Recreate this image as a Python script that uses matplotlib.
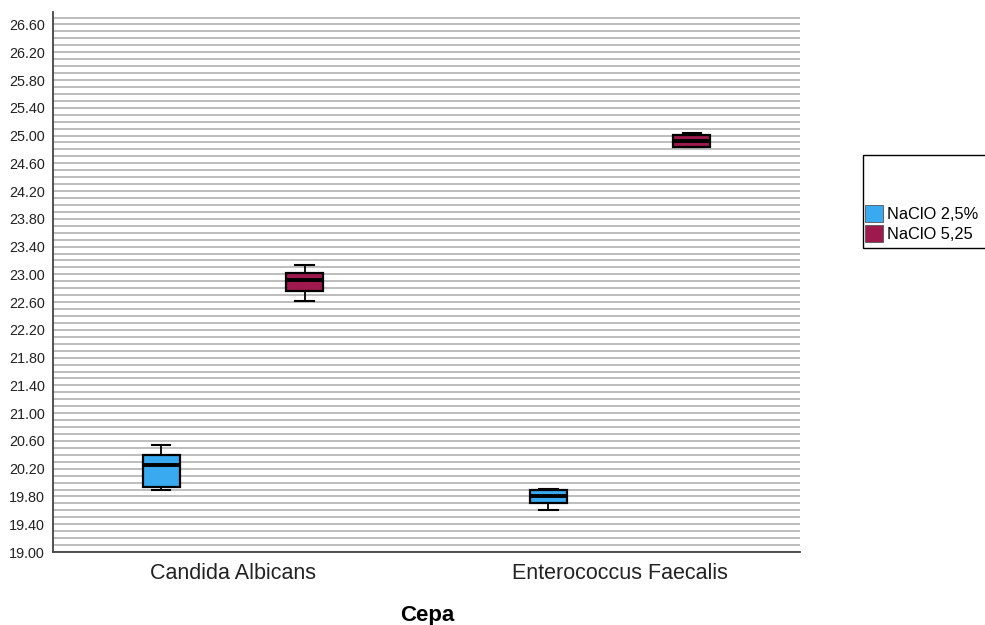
import matplotlib
matplotlib.use("Agg")
import matplotlib.pyplot as plt
from matplotlib.patches import Patch, Rectangle
import numpy as np

plt.rcParams['font.family'] = ['Liberation Sans', 'DejaVu Sans']

categories = ["Candida Albicans", "Enterococcus Faecalis"]
series = ["NaClO 2,5%", "NaClO 5,25"]
colors = ["#3AAAF0", "#9E1A4E"]

# per series, per category: whislo, q1, med, q3, whishi
whislo = [[19.90, 19.61], [22.61, 24.83]]
q1 =     [[19.93, 19.71], [22.76, 24.84]]
med =    [[20.26, 19.80], [22.915, 24.915]]
q3 =     [[20.40, 19.895], [23.015, 25.015]]
whishi = [[20.535, 19.91], [23.13, 25.04]]

yticks = [19.00 + 0.4 * i for i in range(20)]

fig = plt.figure(figsize=(9.85, 6.25), dpi=100)
ax = fig.add_axes([53/985, 1-552/625, (800-53)/985, (552-12)/625])

offsets = [-0.185, 0.185]
width = 0.094
for s in range(len(series)):
    stats = []
    for c in range(len(categories)):
        stats.append(dict(whislo=whislo[s][c], q1=q1[s][c], med=med[s][c],
                          q3=q3[s][c], whishi=whishi[s][c], fliers=[]))
    pos = [c + offsets[s] for c in range(len(categories))]
    ax.bxp(stats, positions=pos, widths=width, patch_artist=True,
           showfliers=False, capwidths=width/2,
           boxprops=dict(facecolor=colors[s], edgecolor='black', linewidth=1.6),
           medianprops=dict(color='black', linewidth=2.8),
           whiskerprops=dict(color='black', linewidth=1.3),
           capprops=dict(color='black', linewidth=1.5), zorder=3)

ax.set_xlim(-0.465, 1.465)
ax.set_ylim(19.0, 26.78)
ax.set_xticks(range(len(categories)))
ax.set_xticklabels(categories, fontsize=15.5, color='#222222')
ax.set_yticks(yticks)
ax.set_yticklabels([f"{v:.2f}" for v in yticks], fontsize=10.4, color='#222222')
ax.set_yticks(np.arange(19.1, 26.79, 0.1), minor=True)
ax.tick_params(axis='y', which='both', length=0, pad=6)
ax.tick_params(axis='x', length=0, pad=8)
ax.grid(axis='y', which='both', color='#b8b8b8', linewidth=1.3, zorder=0)
ax.set_axisbelow(True)
for sp in ['top', 'right']:
    ax.spines[sp].set_visible(False)
for sp in ['left', 'bottom']:
    ax.spines[sp].set_color('#444444')
    ax.spines[sp].set_linewidth(1.3)

fig.text(427/985, 1-615/625, "Cepa", ha='center', va='center', fontsize=16, fontweight='bold')

# legend frame
fig.patches.append(Rectangle((863/985, 1-248/625), 130/985, 93/625, transform=fig.transFigure,
                             facecolor='white', edgecolor='black', linewidth=1.0))
handles = [Patch(facecolor=colors[i], edgecolor='#555555', linewidth=0.6) for i in range(len(series))]
fig.legend(handles, series, loc='upper left', bbox_to_anchor=(854/985, 1-194/625),
           frameon=False, handlelength=1.05, handleheight=1.2, fontsize=11.8,
           handletextpad=0.25, labelspacing=0.15, borderpad=0.2)

fig.savefig("out.png", dpi=100)
